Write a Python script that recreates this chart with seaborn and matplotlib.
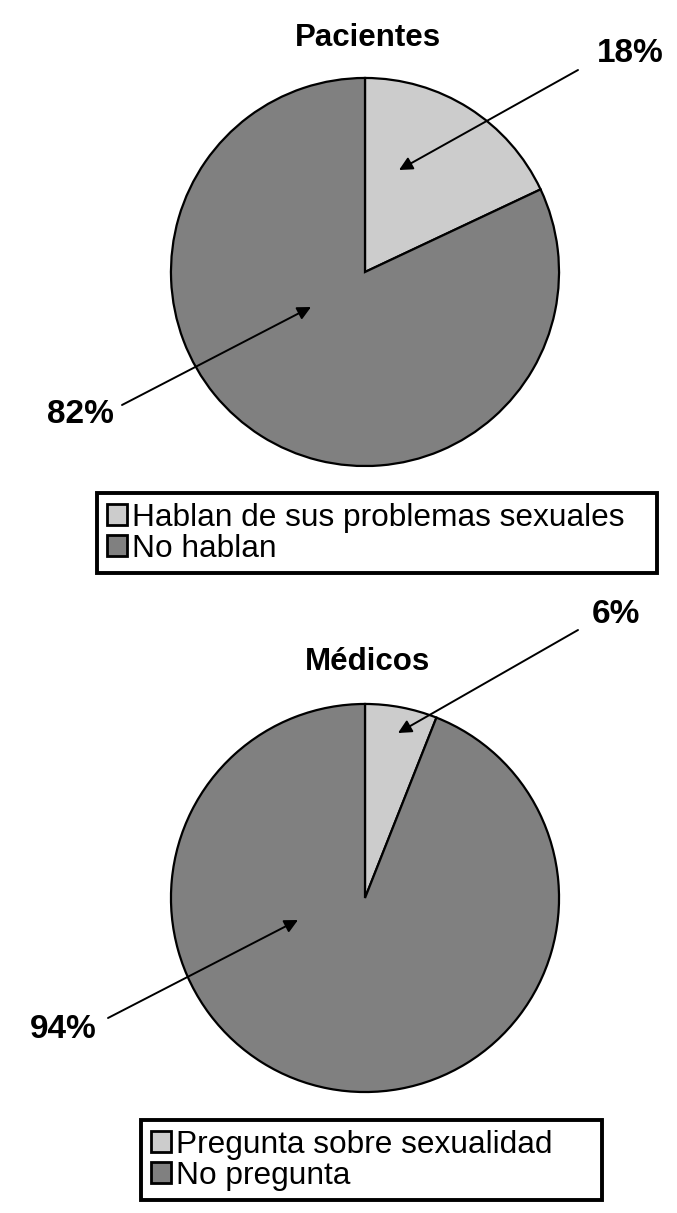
"""Two pie charts: pacientes vs. médicos talking about sexual problems."""

import matplotlib
matplotlib.use("Agg")
import matplotlib.pyplot as plt
import seaborn as sns

# data
pac_labels = ["Hablan de sus problemas sexuales", "No hablan"]
pac_values = [18, 82]
med_labels = ["Pregunta sobre sexualidad", "No pregunta"]
med_values = [6, 94]
slice_colors = ["#cccccc", "#808080"]

W, H = 677, 1213

sns.set_style("white")
plt.rcParams["font.family"] = ["Liberation Sans", "DejaVu Sans"]
plt.rcParams["text.color"] = "black"


def fp(x, y):
    """Image pixel (top-left origin) -> figure pixels."""
    return (x, H - y)


def draw_pie(fig, cx, cy, r, values, labels, title, title_y,
             pct_spots, legend_box):
    ax = fig.add_axes([(cx - r) / W, (H - cy - r) / H, 2 * r / W, 2 * r / H])
    wedges, _ = ax.pie(values, colors=slice_colors, startangle=90,
                       counterclock=False,
                       wedgeprops=dict(edgecolor="black", linewidth=1.6))
    ax.set_xlim(-1.005, 1.005)
    ax.set_ylim(-1.005, 1.005)
    ax.set_aspect("equal")
    ax.axis("off")

    fig.text(cx / W + 0.004, 1 - title_y / H, title, ha="center", va="center",
             fontsize=22.5, fontweight="bold", color="black")

    for v, (tx, ty, sx, sy, ex, ey) in zip(values, pct_spots):
        fig.text(tx / W, 1 - ty / H, f"{v}%", ha="center", va="center",
                 fontsize=24, fontweight="bold", color="black")
        ax.annotate("", xy=fp(ex, ey), xycoords="figure pixels",
                    xytext=fp(sx, sy), textcoords="figure pixels",
                    arrowprops=dict(arrowstyle="-|>", color="black", lw=1.4,
                                    mutation_scale=20, shrinkA=0, shrinkB=0))

    # legend box spans a fixed width, height comes from its content
    x0, y0, x1, y1 = legend_box
    leg = fig.legend(wedges, labels, loc="upper left",
                     bbox_to_anchor=(x0 / W, 1 - y1 / H, (x1 - x0) / W, (y1 - y0) / H),
                     bbox_transform=fig.transFigure, mode="expand",
                     fontsize=22.8, frameon=True, fancybox=False, shadow=False,
                     borderaxespad=0, borderpad=0.3, labelspacing=0.04,
                     handlelength=0.65, handleheight=0.65, handletextpad=0.15)
    for t in leg.get_texts():
        t.set_color("black")
    frame = leg.get_frame()
    frame.set_edgecolor("black")
    frame.set_linewidth(2.8)
    frame.set_alpha(1)
    for h in leg.legend_handles:
        h.set_edgecolor("black")
        h.set_linewidth(2)


fig = plt.figure(figsize=(W / 100, H / 100), dpi=100)
fig.patch.set_facecolor("white")

draw_pie(fig, 365, 272, 195, pac_values, pac_labels, "Pacientes", 38,
         [(630, 54, 578, 70, 399, 170), (80, 415, 122, 405, 311, 307)],
         (97, 493, 657, 576))

draw_pie(fig, 365, 898, 195, med_values, med_labels, "Médicos", 662,
         [(616, 614, 578, 630, 398, 733), (63, 1029, 108, 1018, 298, 920)],
         (141, 1120, 602, 1200))

fig.savefig("out.png", dpi=100, facecolor="white")
